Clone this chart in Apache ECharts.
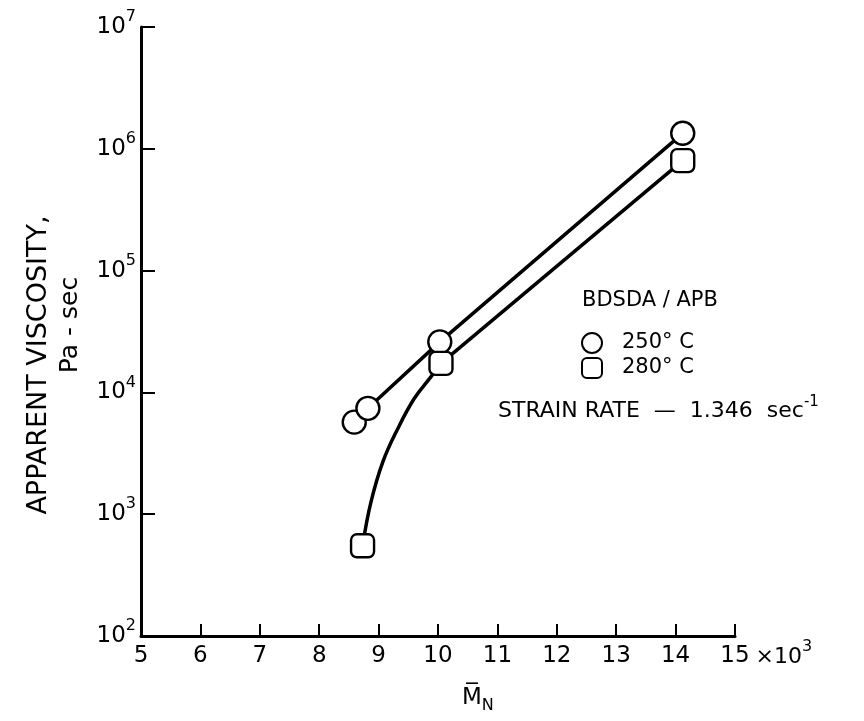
<!DOCTYPE html>
<html><head><meta charset="utf-8">
<script src="https://cdn.jsdelivr.net/npm/echarts@6/dist/echarts.min.js"></script>
<style>html,body{margin:0;padding:0;background:#fff}#c{width:864px;height:721px}</style>
</head><body><div id="c"></div>
<script>
// ---- data ----
const xTicks = [5, 6, 7, 8, 9, 10, 11, 12, 13, 14, 15];
const yTickExponents = [2, 3, 4, 5, 6, 7];
const series250Name = '250° C';
const series280Name = '280° C';
const mn250 = [8.59, 8.82, 10.03, 14.12];
const visc250 = [5700, 7400, 26000, 1340000];
const mn280 = [8.73, 10.05, 14.12];
const visc280 = [550, 17300, 800000];
// hand-drawn curve through the 280° C points
const curve280Mn = [8.73, 8.87, 9.07, 9.32, 9.60, 9.88, 10.05];
const curve280Visc = [550, 1250, 2680, 5000, 8900, 13400, 17300];

const FONT = 'DejaVu Sans';
const zip = (a, b) => a.map((v, i) => [v, b[i]]);

const chart = echarts.init(document.getElementById('c'), null, {renderer: 'canvas'});
const option = {
  animation: false,
  backgroundColor: '#fff',
  grid: {left: 141, right: 129, top: 27, bottom: 85},
  xAxis: {
    type: 'value', min: xTicks[0], max: xTicks[xTicks.length - 1], interval: 1,
    axisLine: {lineStyle: {color: '#000', width: 3}},
    axisTick: {inside: true, length: 12, lineStyle: {color: '#000', width: 2}},
    axisLabel: {color: '#000', fontSize: 23, fontFamily: FONT, margin: 9},
    splitLine: {show: false},
    name: '{x|×10}{e|3}', nameLocation: 'end', nameGap: 3,
    nameTextStyle: {
      verticalAlign: 'top', padding: [3, 0, 0, 0],
      rich: {
        x: {fontSize: 22, fontFamily: FONT, color: '#000', lineHeight: 36},
        e: {fontSize: 16, fontFamily: FONT, color: '#000', verticalAlign: 'top', lineHeight: 16}
      }
    }
  },
  yAxis: {
    type: 'log', logBase: 10,
    min: Math.pow(10, yTickExponents[0]), max: Math.pow(10, yTickExponents[yTickExponents.length - 1]),
    axisLine: {lineStyle: {color: '#000', width: 3}},
    axisTick: {inside: true, length: 14, lineStyle: {color: '#000', width: 2}},
    minorTick: {show: false},
    splitLine: {show: false},
    axisLabel: {
      margin: 5,
      formatter: v => '{b|10}{e|' + Math.round(Math.log10(v)) + '}',
      rich: {
        b: {fontSize: 23, fontFamily: FONT, color: '#000', lineHeight: 36},
        e: {fontSize: 16, fontFamily: FONT, color: '#000', verticalAlign: 'top', lineHeight: 16}
      }
    }
  },
  legend: {
    data: [{name: series250Name, icon: 'circle'}, {name: series280Name, icon: 'roundRect'}],
    orient: 'vertical', left: 576, top: 327, itemWidth: 20, itemHeight: 20, itemGap: 3,
    selectedMode: false,
    textStyle: {fontSize: 21, fontFamily: FONT, color: '#000', padding: [0, 0, 0, 15]}
  },
  graphic: [
    {type: 'text', x: 39, y: 365, rotation: Math.PI / 2, style: {
      text: 'APPARENT VISCOSITY,', font: '27px "DejaVu Sans"', fill: '#000', align: 'center', verticalAlign: 'middle'}},
    {type: 'text', x: 70, y: 325, rotation: Math.PI / 2, style: {
      text: 'Pa - sec', font: '25px "DejaVu Sans"', fill: '#000', align: 'center', verticalAlign: 'middle'}},
    {type: 'text', left: 582, top: 290, style: {text: 'BDSDA / APB', font: '21px "DejaVu Sans"', fill: '#000'}},
    {type: 'text', left: 498, top: 395, style: {
      text: '{t|STRAIN RATE  —  1.346  sec}{e|-1}',
      rich: {t: {font: '22px "DejaVu Sans"', fill: '#000', lineHeight: 32}, e: {font: '15px "DejaVu Sans"', fill: '#000', verticalAlign: 'top', lineHeight: 15}}
    }},
    {type: 'text', left: 462, top: 687, style: {
      text: '{m|M\u0305}{n|N}',
      rich: {m: {font: '23px "DejaVu Sans"', fill: '#000', lineHeight: 30}, n: {font: '16px "DejaVu Sans"', fill: '#000', verticalAlign: 'bottom', lineHeight: 22}}
    }}
  ],
  series: [
    {type: 'line', name: 'fit250', data: zip(mn250.slice(1), visc250.slice(1)), symbol: 'none',
      lineStyle: {color: '#000', width: 3.5}, z: 2, silent: true},
    {type: 'line', name: 'fit280curve', data: zip(curve280Mn, curve280Visc), smooth: 0.4, symbol: 'none',
      lineStyle: {color: '#000', width: 3.5}, z: 2, silent: true},
    {type: 'line', name: 'fit280', data: zip(mn280.slice(1), visc280.slice(1)), symbol: 'none',
      lineStyle: {color: '#000', width: 3.5}, z: 2, silent: true},
    {type: 'scatter', name: series250Name, data: zip(mn250, visc250), symbol: 'circle', symbolSize: 23,
      itemStyle: {color: '#fff', borderColor: '#000', borderWidth: 2.4, opacity: 1}, z: 5},
    {type: 'scatter', name: series280Name, data: zip(mn280, visc280), symbol: 'roundRect', symbolSize: 23,
      itemStyle: {color: '#fff', borderColor: '#000', borderWidth: 2.4, opacity: 1}, z: 5}
  ]
};
chart.setOption(option);
</script>
</body></html>
